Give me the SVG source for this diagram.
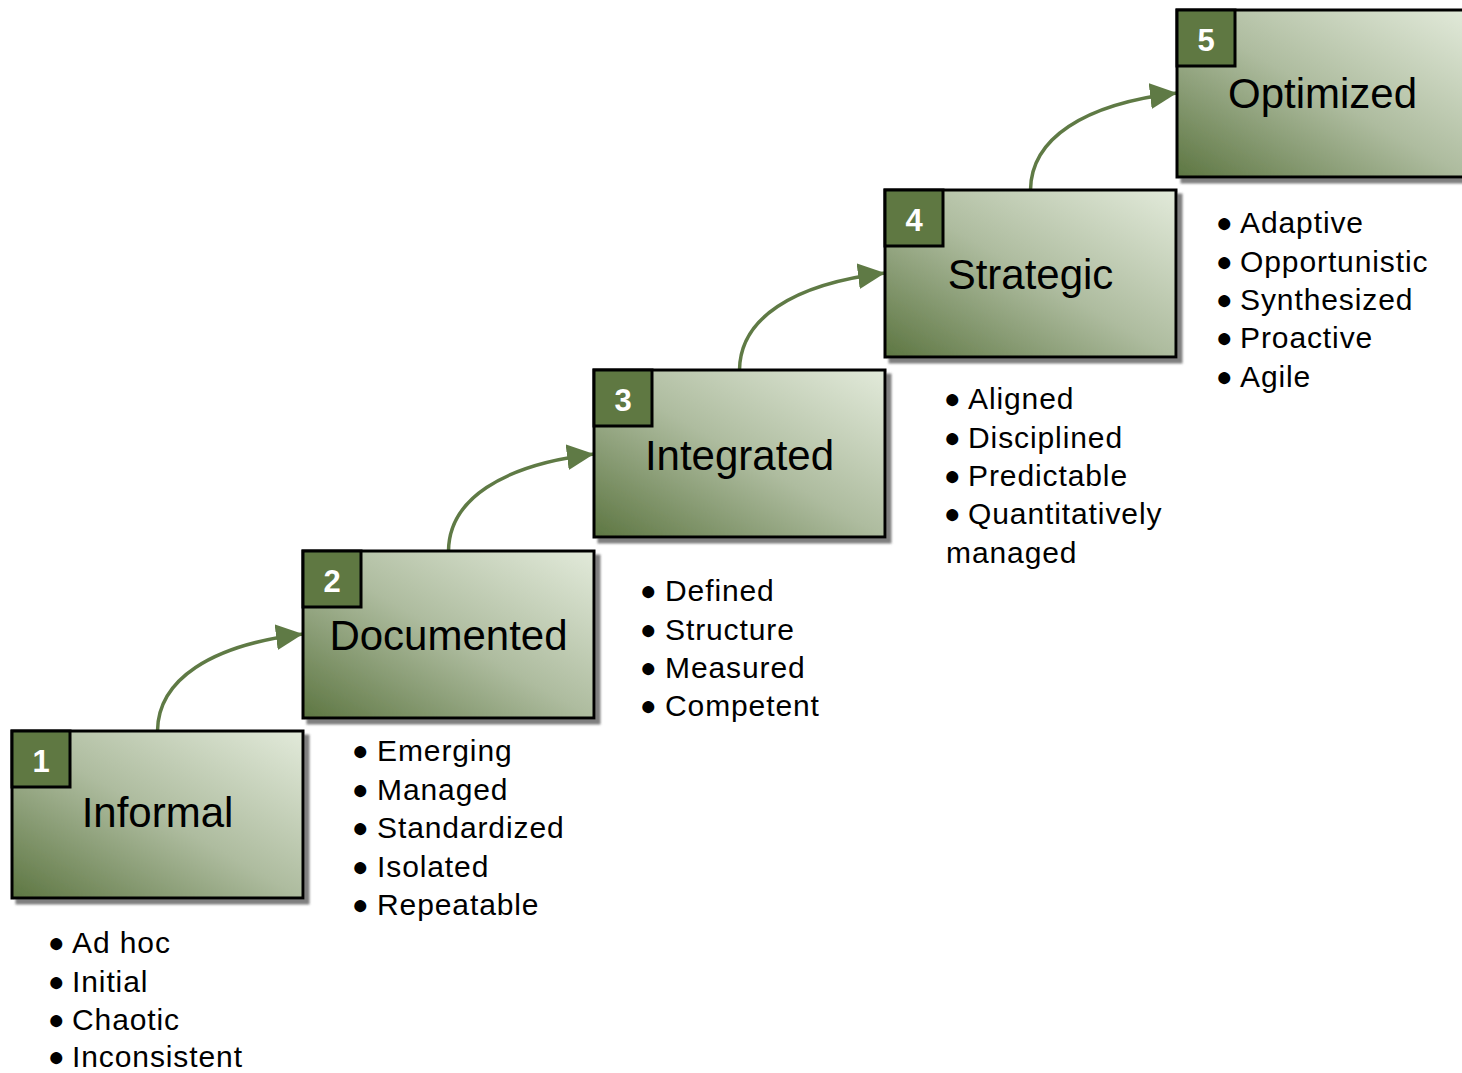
<svg xmlns="http://www.w3.org/2000/svg" width="1462" height="1073" viewBox="0 0 1462 1073">
<defs>
<linearGradient id="g" x1="0" y1="1" x2="1" y2="0">
<stop offset="0" stop-color="#5d7642"/>
<stop offset="0.5" stop-color="#aebc9f"/>
<stop offset="1" stop-color="#e2eada"/>
</linearGradient>
<filter id="sh" x="-5%" y="-5%" width="115%" height="120%">
<feDropShadow dx="5" dy="5" stdDeviation="1.2" flood-color="#555" flood-opacity="0.75"/>
</filter>
<marker id="ah" markerUnits="userSpaceOnUse" markerWidth="28" markerHeight="26" refX="27" refY="13" orient="auto">
<path d="M0,0 L27,13 L0,26 Z" fill="#5f7a45"/>
</marker>
<style>
.box{fill:url(#g);stroke:#000;stroke-width:3}
.num{fill:#5e7843;stroke:#000;stroke-width:3}
.nt{font-family:"Liberation Sans",Arial,sans-serif;font-weight:bold;font-size:31px;fill:#fff;text-anchor:middle}
.title{font-family:"Liberation Sans",Arial,sans-serif;font-size:42px;fill:#000;text-anchor:middle}
.li{font-family:"Liberation Sans",Arial,sans-serif;font-size:30px;letter-spacing:0.9px;fill:#000}
.b{font-family:"Liberation Sans","DejaVu Sans",sans-serif;font-size:28px;letter-spacing:0}
.arr{fill:none;stroke:#5f7a45;stroke-width:3.5;marker-end:url(#ah)}
</style>
</defs>
<rect width="1462" height="1073" fill="#fff"/>
<g id="connectors">
<path class="arr" d="M157.5,731 C158,680 210,645 303,634"/>
<path class="arr" d="M448.5,551 C449,500 501,465 594,454"/>
<path class="arr" d="M739.5,370 C740,319 792,284 885,273"/>
<path class="arr" d="M1030.5,190 C1031,139 1083,104 1177,93"/>
</g>
<g id="n1">
<g filter="url(#sh)"><rect class="box" x="12" y="731" width="291" height="167"/><rect class="num" x="12" y="731" width="58" height="56"/></g>
<text class="nt" x="41" y="772">1</text>
<text class="title" x="157.5" y="827">Informal</text>
<text class="li" x="48" y="953"><tspan class="b" dy="-1">●</tspan><tspan x="72" dy="1">Ad hoc</tspan></text>
<text class="li" x="48" y="992"><tspan class="b" dy="-1">●</tspan><tspan x="72" dy="1">Initial</tspan></text>
<text class="li" x="48" y="1030"><tspan class="b" dy="-1">●</tspan><tspan x="72" dy="1">Chaotic</tspan></text>
<text class="li" x="48" y="1067"><tspan class="b" dy="-1">●</tspan><tspan x="72" dy="1">Inconsistent</tspan></text>
</g>
<g id="n2">
<g filter="url(#sh)"><rect class="box" x="303" y="551" width="291" height="167"/><rect class="num" x="303" y="551" width="58" height="56"/></g>
<text class="nt" x="332" y="592">2</text>
<text class="title" x="448.5" y="650">Documented</text>
<text class="li" x="352" y="761"><tspan class="b" dy="-1">●</tspan><tspan x="377" dy="1">Emerging</tspan></text>
<text class="li" x="352" y="800"><tspan class="b" dy="-1">●</tspan><tspan x="377" dy="1">Managed</tspan></text>
<text class="li" x="352" y="838"><tspan class="b" dy="-1">●</tspan><tspan x="377" dy="1">Standardized</tspan></text>
<text class="li" x="352" y="877"><tspan class="b" dy="-1">●</tspan><tspan x="377" dy="1">Isolated</tspan></text>
<text class="li" x="352" y="915"><tspan class="b" dy="-1">●</tspan><tspan x="377" dy="1">Repeatable</tspan></text>
</g>
<g id="n3">
<g filter="url(#sh)"><rect class="box" x="594" y="370" width="291" height="167"/><rect class="num" x="594" y="370" width="58" height="56"/></g>
<text class="nt" x="623" y="411">3</text>
<text class="title" x="739.5" y="470">Integrated</text>
<text class="li" x="640" y="601"><tspan class="b" dy="-1">●</tspan><tspan x="665" dy="1">Defined</tspan></text>
<text class="li" x="640" y="640"><tspan class="b" dy="-1">●</tspan><tspan x="665" dy="1">Structure</tspan></text>
<text class="li" x="640" y="678"><tspan class="b" dy="-1">●</tspan><tspan x="665" dy="1">Measured</tspan></text>
<text class="li" x="640" y="716"><tspan class="b" dy="-1">●</tspan><tspan x="665" dy="1">Competent</tspan></text>
</g>
<g id="n4">
<g filter="url(#sh)"><rect class="box" x="885" y="190" width="291" height="167"/><rect class="num" x="885" y="190" width="58" height="56"/></g>
<text class="nt" x="914" y="231">4</text>
<text class="title" x="1030.5" y="289">Strategic</text>
<text class="li" x="944" y="409"><tspan class="b" dy="-1">●</tspan><tspan x="968" dy="1">Aligned</tspan></text>
<text class="li" x="944" y="448"><tspan class="b" dy="-1">●</tspan><tspan x="968" dy="1">Disciplined</tspan></text>
<text class="li" x="944" y="486"><tspan class="b" dy="-1">●</tspan><tspan x="968" dy="1">Predictable</tspan></text>
<text class="li" x="944" y="524"><tspan class="b" dy="-1">●</tspan><tspan x="968" dy="1">Quantitatively</tspan></text>
<text class="li" x="946" y="563">managed</text>
</g>
<g id="n5">
<g filter="url(#sh)"><rect class="box" x="1177" y="10" width="291" height="167"/><rect class="num" x="1177" y="10" width="58" height="56"/></g>
<text class="nt" x="1206" y="51">5</text>
<text class="title" x="1322.5" y="108">Optimized</text>
<text class="li" x="1216" y="233"><tspan class="b" dy="-1">●</tspan><tspan x="1240" dy="1">Adaptive</tspan></text>
<text class="li" x="1216" y="272"><tspan class="b" dy="-1">●</tspan><tspan x="1240" dy="1">Opportunistic</tspan></text>
<text class="li" x="1216" y="310"><tspan class="b" dy="-1">●</tspan><tspan x="1240" dy="1">Synthesized</tspan></text>
<text class="li" x="1216" y="348"><tspan class="b" dy="-1">●</tspan><tspan x="1240" dy="1">Proactive</tspan></text>
<text class="li" x="1216" y="387"><tspan class="b" dy="-1">●</tspan><tspan x="1240" dy="1">Agile</tspan></text>
</g>
</svg>
